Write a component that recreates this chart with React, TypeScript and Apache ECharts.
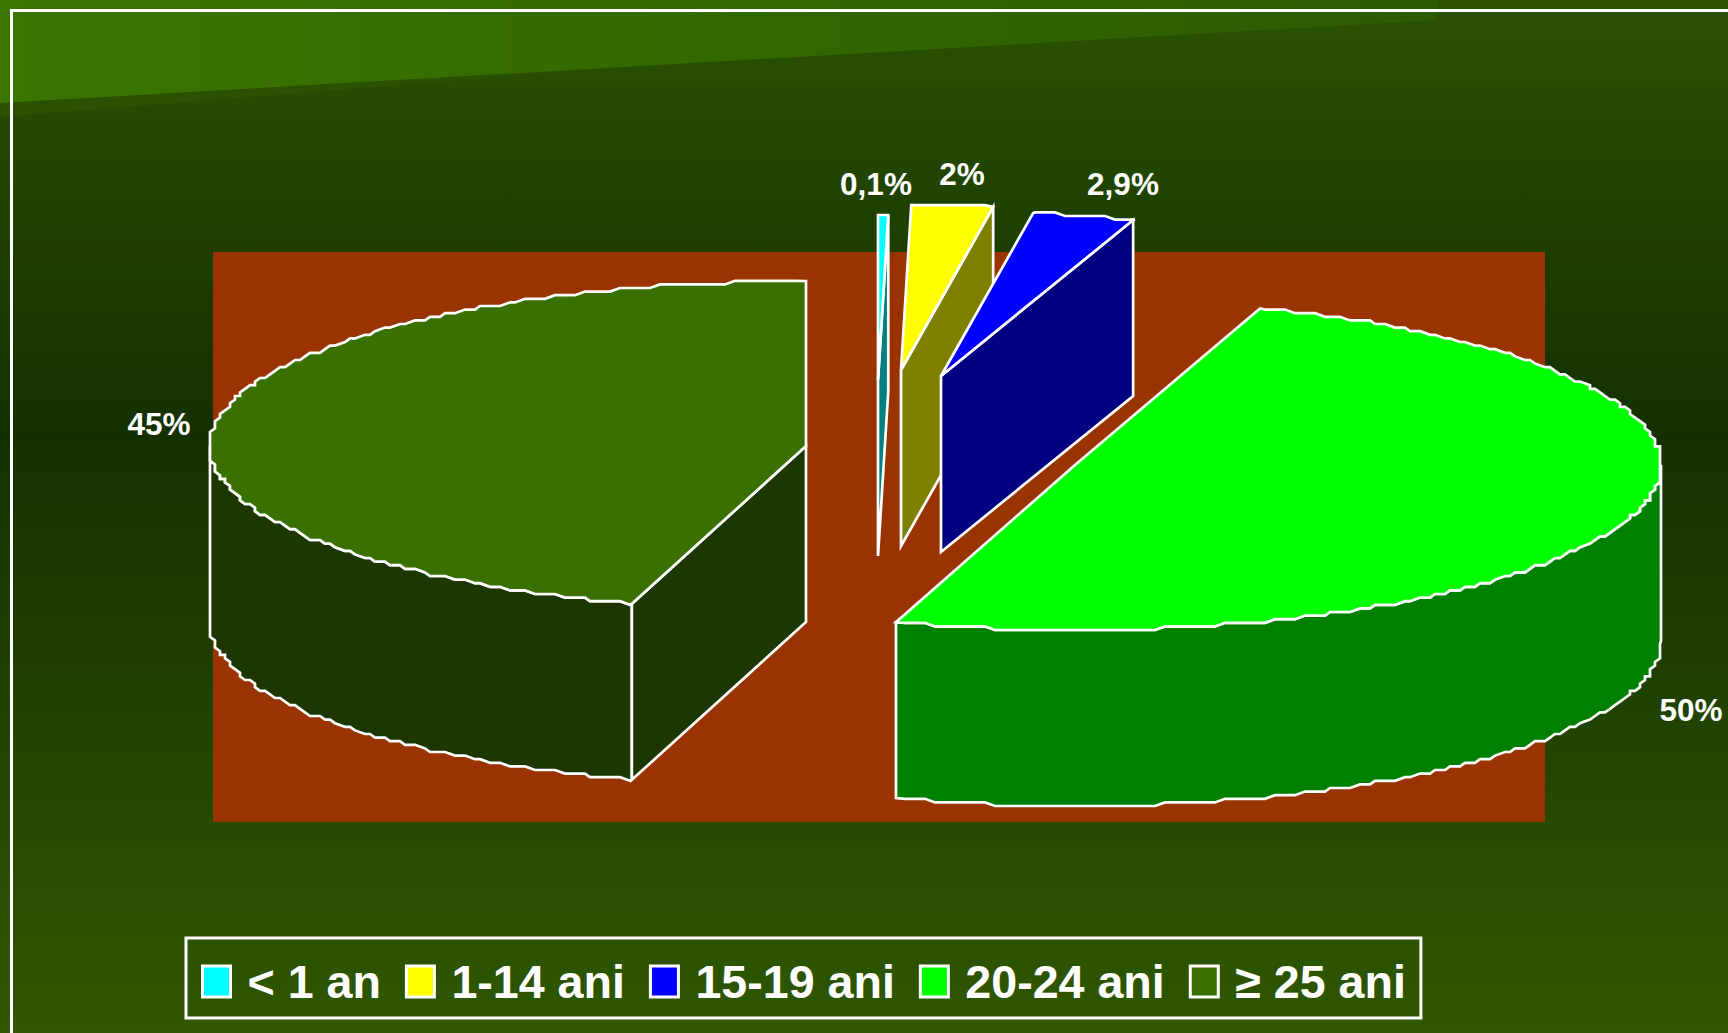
import React, { useEffect, useRef } from "react";
import * as echarts from "echarts";

const categories = ["< 1 an", "1-14 ani", "15-19 ani", "20-24 ani", "≥ 25 ani"];
const values = [0.1, 2, 2.9, 50, 45];
const topColors = ["#00ffff", "#ffff00", "#0000ff", "#00ff00", "#3a7000"];
const sideColors = ["#008080", "#808000", "#000080", "#008000", "#1c3800"];

// layout of the exploded slices (apex of each slice and its ellipse radius)
const apexX = [878, 901, 941, 1075, 806];
const apexY = [380, 370, 376, 465, 446];
const radiusX = [590, 590, 590, 586, 596];
const radiusY = 165;
const depth = 176;
const labelX = [876, 962, 1123, 1691, 159];
const labelY = [184, 174, 184, 710, 424];
const minSliceDeg = 1;
// small corrections for the projection of the drawn 3D pie
const startTweakDeg = [0, 0, 0.8, -0.2, -1.3];
const endTweakDeg = [0, 0.8, 0.4, -0.5, 0];

const fmt = (v: number) => String(v).replace(".", ",") + "%";

function sliceAngles(vals: number[]) {
  const raw = vals.map((v) => Math.max(v * 3.6, minSliceDeg));
  const total = raw.reduce((a, b) => a + b, 0);
  const out: [number, number][] = [];
  let cur = 0;
  raw.forEach((r, i) => {
    const span = (r / total) * 360;
    out.push([cur + startTweakDeg[i], cur + span + endTweakDeg[i]]);
    cur += span;
  });
  return out;
}

const snap = (v: number, s: number) => Math.round(v / s) * s;

function arcPoints(cx: number, cy: number, a: number, b: number, from: number, to: number) {
  const pts: number[][] = [];
  const point = (deg: number) => {
    const t = (deg * Math.PI) / 180;
    return [cx + a * Math.sin(t), cy - b * Math.cos(t)];
  };
  pts.push(point(from));
  for (let deg = Math.floor(from) + 1; deg < to; deg++) {
    const p = point(deg);
    const q = [snap(p[0], 5), snap(p[1], 3.6)];
    const last = pts[pts.length - 1];
    if (q[0] !== last[0] || q[1] !== last[1]) pts.push(q);
  }
  pts.push(point(to));
  return pts;
}

function makeOption() {
  const angles = sliceAngles(values);
  const series = categories.map((name, idx) => ({
    type: "custom",
    name,
    coordinateSystem: "none",
    silent: true,
    itemStyle: { color: topColors[idx] },
    data: [[values[idx]]],
    z: 2 + idx,
    renderItem: (_p: any, api: any) => {
      const v = api.value(0);
      const [t1, t2] = angles[idx];
      const cx = apexX[idx];
      const cy = apexY[idx];
      const a = radiusX[idx];
      const arc = arcPoints(cx, cy, a, radiusY, t1, t2);
      const children: any[] = [];
      const lineStyle = { stroke: "#ffffff", lineWidth: 2.7, lineJoin: "miter" };
      const poly = (points: number[][], fill: string) => ({
        type: "polygon",
        shape: { points },
        style: { fill, ...lineStyle },
      });
      const down = (p: number[]) => [p[0], p[1] + depth];
      // rounded outer wall, where the rim faces the viewer
      const wFrom = Math.max(t1, 90);
      const wTo = Math.min(t2, 270);
      if (wTo > wFrom) {
        const wall = arcPoints(cx, cy, a, radiusY, wFrom, wTo);
        children.push(poly([...wall, ...wall.map(down).reverse()], sideColors[idx]));
      }
      // flat cut faces, when they face the viewer
      const cut = (deg: number) => {
        const t = (deg * Math.PI) / 180;
        const p = [cx + a * Math.sin(t), cy - radiusY * Math.cos(t)];
        const c = [cx, cy];
        children.push(poly([c, p, down(p), down(c)], sideColors[idx]));
      };
      if (Math.cos(((t1 - 90) * Math.PI) / 180) < -1e-6) cut(t1);
      if (Math.cos(((t2 + 90) * Math.PI) / 180) < -1e-6) cut(t2);
      children.push(poly([[cx, cy], ...arc], topColors[idx]));
      children.push({
        type: "text",
        x: labelX[idx],
        y: labelY[idx],
        style: {
          text: fmt(v),
          fill: "#ffffff",
          font: 'bold 31.5px "Liberation Sans", Arial, sans-serif',
          align: "center",
          verticalAlign: "middle",
        },
      });
      return { type: "group", children };
    },
  }));

  return {
    animation: false,
    backgroundColor: {
      type: "linear",
      x: 0,
      y: 0,
      x2: 0,
      y2: 1,
      colorStops: [
        { offset: 0, color: "#2a5200" },
        { offset: 0.42, color: "#143000" },
        { offset: 1, color: "#2f5800" },
      ],
    },
    legend: {
      show: true,
      left: 186,
      top: 938,
      orient: "horizontal",
      icon: "rect",
      data: categories,
      itemWidth: 28,
      itemHeight: 31,
      itemGap: 24,
      padding: [20, 15, 13, 15],
      borderColor: "#ffffff",
      borderWidth: 3,
      backgroundColor: "transparent",
      selectedMode: false,
      itemStyle: { borderColor: "#ffffff", borderWidth: 3 },
      textStyle: {
        color: "#ffffff",
        fontFamily: '"Liberation Sans", Arial, sans-serif',
        fontWeight: "bold",
        fontSize: 46.6,
        padding: [0, 0, 0, 12],
      },
    },
    graphic: [
      {
        type: "polygon",
        z: 0,
        silent: true,
        shape: { points: [[0, 103], [0, 117], [650, 65]] },
        style: { fill: "#2a5000" },
      },
      {
        type: "polygon",
        z: 0,
        silent: true,
        shape: { points: [[0, 0], [1437, 0], [1437, 20], [0, 103]] },
        style: {
          fill: {
            type: "linear",
            x: 0,
            y: 0,
            x2: 1,
            y2: 0,
            colorStops: [
              { offset: 0, color: "#3a7600" },
              { offset: 1, color: "#2d5a00" },
            ],
          },
        },
      },
      {
        type: "rect",
        z: 0,
        silent: true,
        shape: { x: 213, y: 252, width: 1332, height: 570 },
        style: { fill: "#993300" },
      },
      {
        type: "polyline",
        z: 1,
        silent: true,
        shape: { points: [[11.5, 1033], [11.5, 10.5], [1728, 10.5]] },
        style: { stroke: "#ffffff", lineWidth: 3, fill: "none" },
      },
    ],
    series,
  };
}

export default function App() {
  const ref = useRef<HTMLDivElement>(null);
  useEffect(() => {
    document.body.style.margin = "0";
    const chart = echarts.init(ref.current!, undefined, { renderer: "svg" });
    chart.setOption(makeOption() as any);
    return () => chart.dispose();
  }, []);
  return <div ref={ref} style={{ width: 1728, height: 1033 }} />;
}
